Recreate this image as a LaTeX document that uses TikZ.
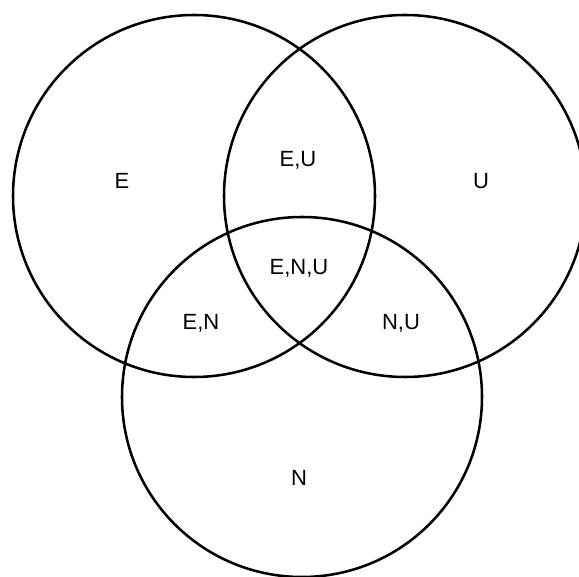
\documentclass[tikz,border=0pt]{standalone}
\usepackage{fontspec}
\setmainfont{Liberation Sans}
\begin{document}
\begin{tikzpicture}[x=0.75pt,y=-0.75pt,
  ring/.style={draw=black,line width=1.9pt},
  lab/.style={font=\fontsize{16.5}{18}\selectfont,inner sep=0pt,anchor=center}]
\useasboundingbox (0,0) rectangle (579,577);
\begin{scope}
\clip (0,0) rectangle (579,577);
\draw[ring] (194,196) circle [radius=181];
\draw[ring] (405,196) circle [radius=181];
\draw[ring] (302,397) circle [radius=180];
\end{scope}
\node[lab] (e) at (122,181) {E};
\node[lab] (u) at (481,181) {U};
\node[lab] (eu) at (298,160) {E,U};
\node[lab] (enu) at (299,268) {E,N,U};
\node[lab] (en) at (201,323) {E,N};
\node[lab] (nu) at (401,323) {N,U};
\node[lab] (n) at (299,478) {N};
\end{tikzpicture}
\end{document}
